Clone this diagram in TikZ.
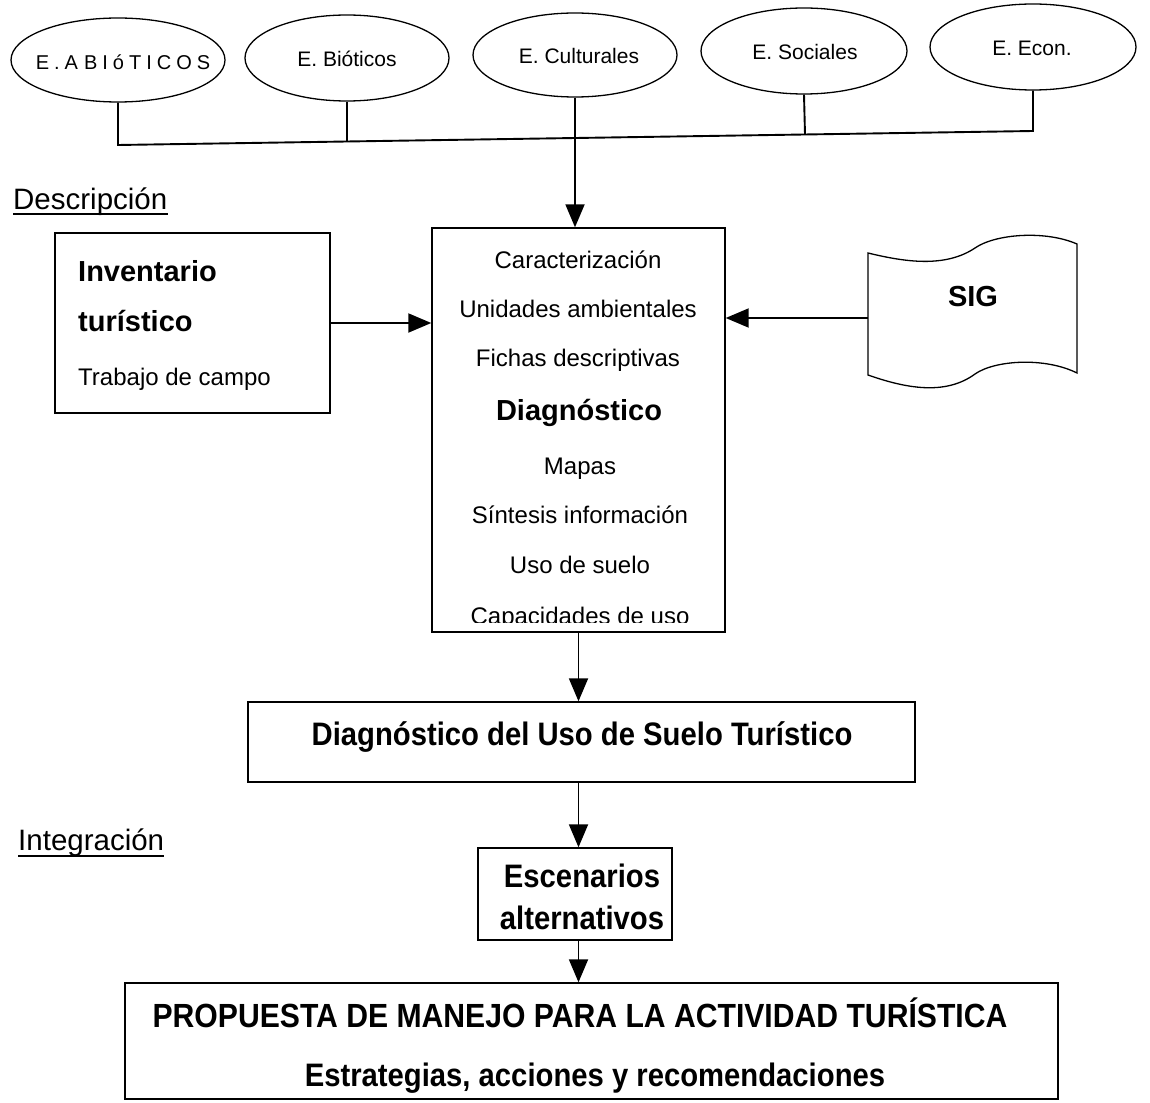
\documentclass[tikz,border=0pt]{standalone}
\usepackage{fontspec}
\setmainfont{Liberation Sans}
\newfontfamily\narrowfont{Liberation Sans}[FakeStretch=0.9]
\usetikzlibrary{arrows.meta,shapes.geometric,calc}
\begin{document}
\begin{tikzpicture}[x=1pt,y=-1pt,
  conn/.style={line width=1.9pt},
  arr/.style={line width=1.9pt,-{Triangle[length=23pt,width=19pt]}},
  ell/.style={ellipse,draw,line width=1.3pt,inner sep=0pt},
  boxr/.style={rectangle,draw,line width=1.4pt,inner sep=0pt},
  txt/.style={inner sep=0pt,anchor=base},
  small/.style={txt,font=\fontsize{21}{25}\selectfont},
  body/.style={txt,font=\fontsize{24}{28}\selectfont},
  bodyb/.style={txt,font=\bfseries\fontsize{29}{34}\selectfont},
  title/.style={txt,font=\narrowfont\bfseries\fontsize{32.5}{38}\selectfont},
  sect/.style={txt,anchor=base west,font=\fontsize{29.5}{34}\selectfont},
  ]
\useasboundingbox[fill=white] (0,0) rectangle (1150,1102);

% top ellipses
\node[ell,minimum width=214pt,minimum height=84pt] (e1) at (118,60) {};
\node[ell,minimum width=204pt,minimum height=86pt] (e2) at (347,58) {};
\node[ell,minimum width=204pt,minimum height=84pt] (e3) at (575,55) {};
\node[ell,minimum width=206pt,minimum height=86pt] (e4) at (804,51) {};
\node[ell,minimum width=206pt,minimum height=86pt] (e5) at (1033,47) {};
\node[txt,font=\fontsize{20}{24}\selectfont] (t1) at (123,70)
  {E\kern5pt.\kern5pt A\kern6pt B\kern5pt I\kern5pt ó\kern5pt T\kern5pt I\kern5pt C\kern5pt O\kern5pt S};
\node[small] (t2) at (347,67) {E. Bióticos};
\node[small] (t3) at (579,64) {E. Culturales};
\node[small] (t4) at (805,60) {E. Sociales};
\node[small] (t5) at (1032,56) {E. Econ.};

% bus
\coordinate (b1) at (118,145);
\coordinate (b2) at (347,141.5);
\coordinate (b4) at (805,134.5);
\coordinate (b5) at (1033,131);
\draw[conn] (e1.south) -- (b1) -- (b5) -- (e5.south);
\draw[conn] (e2.south) -- (b2);
\draw[conn] (e4.south) -- (b4);

% section labels
\node[sect] (desc) at (13,209) {Descripción};
\draw[line width=1.6pt] ([yshift=-5pt]desc.base west) -- ([yshift=-5pt]desc.base east);
\node[sect] (integ) at (18,850) {Integración};
\draw[line width=1.6pt] ([yshift=-6pt]integ.base west) -- ([yshift=-6pt]integ.base east);

% central box
\node[boxr,minimum width=293pt,minimum height=404pt] (cent) at (578.5,430) {};
\draw[arr] (e3.south) -- (e3.south |- cent.north);
\node[body] (c1) at (578,268) {Caracterización};
\node[body] (c2) at (578,317) {Unidades ambientales};
\node[body] (c3) at (578,366) {Fichas descriptivas};
\node[bodyb] (c4) at (579,420) {Diagnóstico};
\node[body] (c5) at (580,474) {Mapas};
\node[body] (c6) at (580,523) {Síntesis información};
\node[body] (c7) at (580,573) {Uso de suelo};
\begin{scope}
  \clip (cent.west |- 0,590) rectangle (cent.east |- 0,622);
  \node[body] (c8) at (580,624.5) {Capacidades de uso};
\end{scope}

% inventario box
\node[boxr,minimum width=275pt,minimum height=180pt] (inv) at (192.5,323) {};
\node[bodyb,anchor=base west] (i1) at (78,281) {Inventario};
\node[bodyb,anchor=base west] (i2) at (78,331) {turístico};
\node[body,anchor=base west] (i3) at (78,385) {Trabajo de campo};
\draw[arr] (inv.east) -- (inv.east -| cent.west);

% SIG punched tape
\draw[line width=1.3pt] (868,253) .. controls (905,262) and (945,268) .. (975,248)
  .. controls (995,234) and (1045,230) .. (1077,244) -- (1077,373)
  .. controls (1045,357) and (995,360) .. (975,374)
  .. controls (945,396) and (905,388) .. (868,375) -- cycle;
\coordinate (sigL) at (868,318);
\node[bodyb] (sig) at (973,306) {SIG};
\draw[arr] (sigL) -- (sigL -| cent.east);

% diagnostico box
\node[boxr,minimum width=667pt,minimum height=80pt] (diag) at (581.5,742) {};
\node[title] (dt) at (582,745) {Diagnóstico del Uso de Suelo Turístico};
\draw[arr] (cent.south) -- (cent.south |- diag.north);

% escenarios box
\node[boxr,minimum width=194pt,minimum height=92pt] (esc) at (575,894) {};
\node[title] (s1) at (582,887) {Escenarios};
\node[title] (s2) at (582,929) {alternativos};
\draw[arr] (cent.south |- diag.south) -- (cent.south |- esc.north);

% propuesta box
\node[boxr,minimum width=933pt,minimum height=116pt] (prop) at (591.5,1041) {};
\node[title,font=\narrowfont\bfseries\fontsize{33.5}{39}\selectfont] (p1) at (580,1027) {PROPUESTA DE MANEJO PARA LA ACTIVIDAD TURÍSTICA};
\node[title] (p2) at (595,1086) {Estrategias, acciones y recomendaciones};
\draw[arr] (cent.south |- esc.south) -- (cent.south |- prop.north);
\end{tikzpicture}
\end{document}
